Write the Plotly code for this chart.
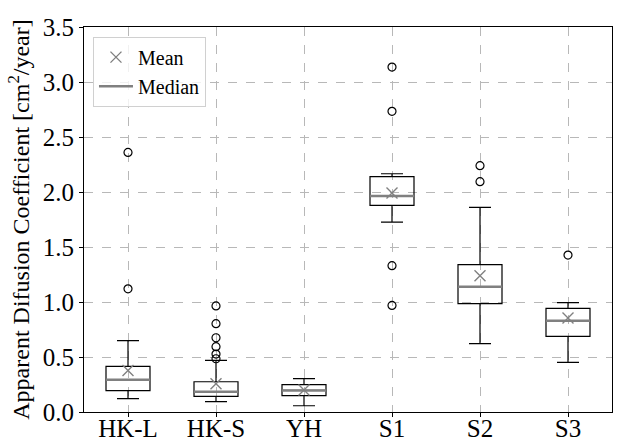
import plotly.graph_objects as go

categories = ["HK-L", "HK-S", "YH", "S1", "S2", "S3"]
q1_vals = [0.194, 0.142, 0.148, 1.878, 0.985, 0.687]
median_vals = [0.294, 0.185, 0.196, 1.964, 1.139, 0.830]
q3_vals = [0.415, 0.275, 0.248, 2.139, 1.339, 0.942]
mean_vals = [0.378, 0.257, 0.200, 1.990, 1.239, 0.855]
lower_whisker = [0.121, 0.094, 0.057, 1.727, 0.621, 0.451]
upper_whisker = [0.648, 0.469, 0.303, 2.166, 1.860, 0.994]
outliers = [
    [2.36, 1.12],
    [0.964, 0.803, 0.675, 0.594, 0.527, 0.484],
    [],
    [3.136, 2.733, 1.33, 0.969],
    [2.239, 2.094],
    [1.427],
]

positions = list(range(len(categories)))
FONT = "Liberation Serif"
GRAY = "#808080"

fig = go.Figure()

fig.add_trace(go.Box(
    x=positions, q1=q1_vals, median=median_vals, q3=q3_vals,
    lowerfence=lower_whisker, upperfence=upper_whisker,
    width=0.5, whiskerwidth=0.5, boxpoints=False,
    line=dict(color="black", width=1.2),
    fillcolor="rgba(0,0,0,0)", showlegend=False, hoverinfo="skip",
))

# outliers
ox, oy = [], []
for i, pts in enumerate(outliers):
    for v in pts:
        ox.append(i)
        oy.append(v)
fig.add_trace(go.Scatter(
    x=ox, y=oy, mode="markers", showlegend=False,
    marker=dict(symbol="circle-open", size=8, color="black", line=dict(width=1.2)),
))

# median lines (gray)
mx, my = [], []
for i, m in enumerate(median_vals):
    mx += [i - 0.25, i + 0.25, None]
    my += [m, m, None]
fig.add_trace(go.Scatter(
    x=mx, y=my, mode="lines", name="Median",
    line=dict(color=GRAY, width=2.5),
))

# means
fig.add_trace(go.Scatter(
    x=positions, y=mean_vals, mode="markers", name="Mean",
    marker=dict(symbol="x-thin-open", size=11, color=GRAY, line=dict(width=1.4, color=GRAY)),
))

fig.update_layout(
    width=617, height=442,
    margin=dict(l=84, r=5, t=27, b=30),
    plot_bgcolor="white", paper_bgcolor="white",
    font=dict(family=FONT, color="black", size=24),
    legend=dict(
        x=0.017, y=0.975, xanchor="left", yanchor="top",
        bgcolor="rgba(255,255,255,0.8)", bordercolor="#d0d0d0", borderwidth=1,
        font=dict(size=20, family=FONT), traceorder="reversed",
        itemwidth=34,
    ),
    showlegend=True,
)
fig.update_xaxes(
    range=[-0.5, 5.5], tickvals=positions, ticktext=categories,
    showline=True, linecolor="black", linewidth=1.2, mirror=True,
    ticks="outside", ticklen=4, tickcolor="black",
    showgrid=True, gridcolor="#b8b8b8", griddash="dash", gridwidth=0.8,
    tickfont=dict(size=25, family=FONT), zeroline=False, automargin=False,
    ticklabelstandoff=-10,
)
fig.update_yaxes(
    range=[0, 3.5], dtick=0.5, tickformat=".1f",
    showline=True, linecolor="black", linewidth=1.2, mirror=True,
    ticks="outside", ticklen=4, tickcolor="black",
    showgrid=True, gridcolor="#b8b8b8", griddash="dash", gridwidth=0.8,
    tickfont=dict(size=25, family=FONT), zeroline=False, automargin=False,
    title=dict(text="Apparent Difusion Coefficient [cm<sup>2</sup>/year]",
               font=dict(size=24, family=FONT), standoff=6),
)

fig.write_html("out.html", config={"displayModeBar": False},
               post_script="document.body.style.margin='0px';document.body.style.overflow='hidden';")
